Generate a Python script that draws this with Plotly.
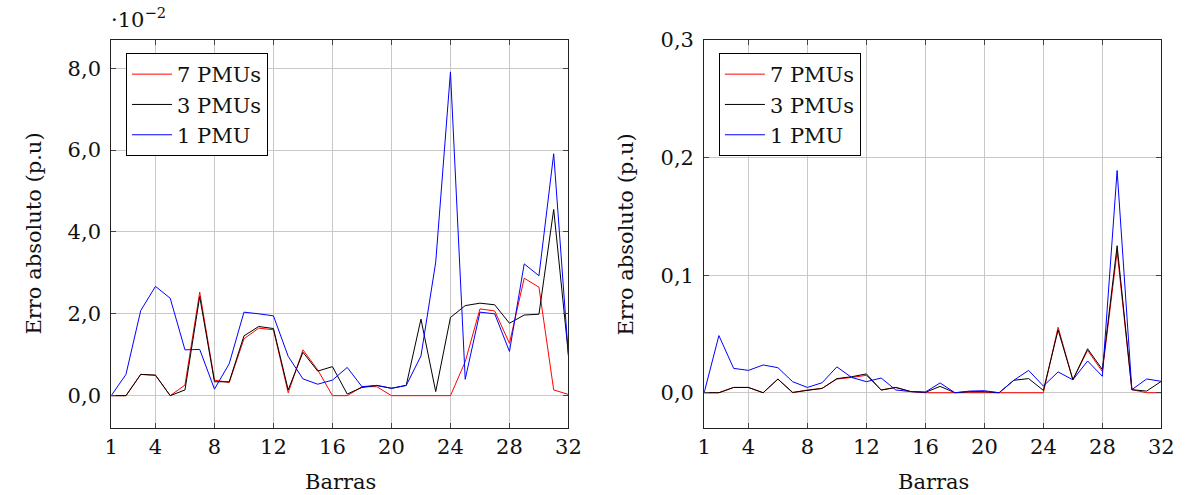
import plotly.graph_objects as go

# Bus numbers (Barras)
barras = list(range(1, 33))

# Left panel: absolute error, in units of 1e-2 p.u.
erro_a_7pmu = [0.0, 0.0, 0.52, 0.50, 0.0, 0.26, 2.53, 0.38, 0.32, 1.39,
               1.65, 1.61, 0.07, 1.12, 0.63, 0.0, 0.0, 0.22, 0.22, 0.0,
               0.0, 0.0, 0.0, 0.0, 0.83, 2.12, 2.07, 1.28, 2.87, 2.65,
               0.14, 0.03]
erro_a_3pmu = [0.0, 0.0, 0.52, 0.50, 0.0, 0.14, 2.42, 0.34, 0.34, 1.46,
               1.69, 1.64, 0.14, 1.06, 0.60, 0.71, 0.04, 0.20, 0.25, 0.18,
               0.25, 1.87, 0.10, 1.91, 2.20, 2.26, 2.22, 1.77, 1.97, 1.99,
               4.55, 1.00]
erro_a_1pmu = [0.0, 0.52, 2.08, 2.67, 2.38, 1.12, 1.13, 0.16, 0.78, 2.04,
               2.00, 1.95, 0.96, 0.41, 0.28, 0.38, 0.69, 0.22, 0.25, 0.18,
               0.25, 0.97, 3.26, 7.91, 0.40, 2.04, 2.00, 1.08, 3.22, 2.93,
               5.91, 0.96]

# Right panel: absolute error in p.u.
erro_b_7pmu = [0.0, 0.0, 0.0045, 0.0045, 0.0, 0.0116, 0.0, 0.0023, 0.0037, 0.0116,
               0.013, 0.0148, 0.0023, 0.0045, 0.001, 0.0, 0.0, 0.0, 0.0, 0.0,
               0.0, 0.0, 0.0, 0.0, 0.0557, 0.011, 0.036, 0.018, 0.120, 0.0026,
               0.0, 0.0]
erro_b_3pmu = [0.0, 0.0, 0.0045, 0.0045, 0.0, 0.0116, 0.0003, 0.0023, 0.0037, 0.012,
               0.0136, 0.016, 0.0023, 0.0045, 0.001, 0.0003, 0.0054, 0.0, 0.0009, 0.0009,
               0.0, 0.0106, 0.012, 0.002, 0.0534, 0.011, 0.0374, 0.0197, 0.125, 0.0026,
               0.0014, 0.0097]
erro_b_1pmu = [0.0, 0.0486, 0.0207, 0.019, 0.0236, 0.0213, 0.0094, 0.0045, 0.0085, 0.022,
               0.013, 0.0094, 0.0125, 0.0023, 0.001, 0.0006, 0.0083, 0.0, 0.0014, 0.0017,
               0.0, 0.0106, 0.019, 0.0057, 0.0177, 0.011, 0.027, 0.014, 0.189, 0.0026,
               0.0117, 0.0097]

series_names = ["7 PMUs", "3 PMUs", "1 PMU"]
series_colors = ["#ff0000", "#000000", "#0000ff"]

x_ticks = [1, 4, 8, 12, 16, 20, 24, 28, 32]
y_ticks_a = [0, 2, 4, 6, 8]
y_ticks_b = [0, 0.1, 0.2, 0.3]

W, H = 1196, 495
top, bottom = 40, 428  # plot area in px
FONT = "DejaVu Serif"
FSIZE = 21

fig = go.Figure()

for name, color, ys in zip(series_names, series_colors,
                           [erro_a_7pmu, erro_a_3pmu, erro_a_1pmu]):
    fig.add_trace(go.Scatter(x=barras, y=ys, mode="lines", name=name,
                             line=dict(color=color, width=1),
                             xaxis="x", yaxis="y", legend="legend"))

for name, color, ys in zip(series_names, series_colors,
                           [erro_b_7pmu, erro_b_3pmu, erro_b_1pmu]):
    fig.add_trace(go.Scatter(x=barras, y=ys, mode="lines", name=name,
                             line=dict(color=color, width=1),
                             xaxis="x2", yaxis="y2", legend="legend2"))

axis_common = dict(
    showgrid=True, gridcolor="#c8c8c8", gridwidth=1,
    zeroline=False, showline=True, linecolor="#222", linewidth=1,
    mirror="ticks", ticks="inside", ticklen=5, tickcolor="#444",
    tickfont=dict(family=FONT, size=FSIZE, color="#111"),
)

def px_x(p):
    return p / W

def py(p):
    return (bottom - p) / (bottom - top)

legend_common = dict(xanchor="left", yanchor="top",
                     bgcolor="white", bordercolor="#000", borderwidth=1,
                     font=dict(family=FONT, size=FSIZE, color="#111"),
                     tracegroupgap=0, itemwidth=40)

fig.update_layout(
    width=W, height=H,
    margin=dict(l=0, r=0, t=top, b=H - bottom),
    paper_bgcolor="white", plot_bgcolor="white",
    separators=",.",
    showlegend=True,
    xaxis=dict(domain=[px_x(106), px_x(571)], range=[1, 32], tickvals=x_ticks,
               anchor="y", **axis_common),
    yaxis=dict(domain=[0, 1], range=[-0.79, 8.69], tickvals=y_ticks_a,
               tickformat=".1f", anchor="x", ticklabelstandoff=5, **axis_common),
    xaxis2=dict(domain=[px_x(709), px_x(1174)], range=[1, 32], tickvals=x_ticks,
                anchor="y2", **axis_common),
    yaxis2=dict(domain=[0, 1], range=[-0.03, 0.3], tickvals=y_ticks_b,
                tickformat=".1f", anchor="x2", ticklabelstandoff=5, **axis_common),
    legend=dict(x=px_x(121), y=py(53), **legend_common),
    legend2=dict(x=px_x(724), y=py(53), **legend_common),
)

label_font = dict(family=FONT, size=FSIZE, color="#111")
annotations = [
    dict(text="Erro absoluto (p.u)", x=px_x(27), y=0.5, textangle=-90),
    dict(text="Erro absoluto (p.u)", x=px_x(630), y=0.5, textangle=-90),
    dict(text="Barras", x=px_x(339), y=py(482)),
    dict(text="Barras", x=px_x(942), y=py(482)),
    dict(text="·10<sup>−2</sup>", x=px_x(104), y=py(18), xanchor="left"),
]
for a in annotations:
    a.setdefault("xanchor", "center")
    fig.add_annotation(xref="paper", yref="paper", showarrow=False,
                       font=label_font, yanchor="middle", **a)

fig.write_html("out.html")
